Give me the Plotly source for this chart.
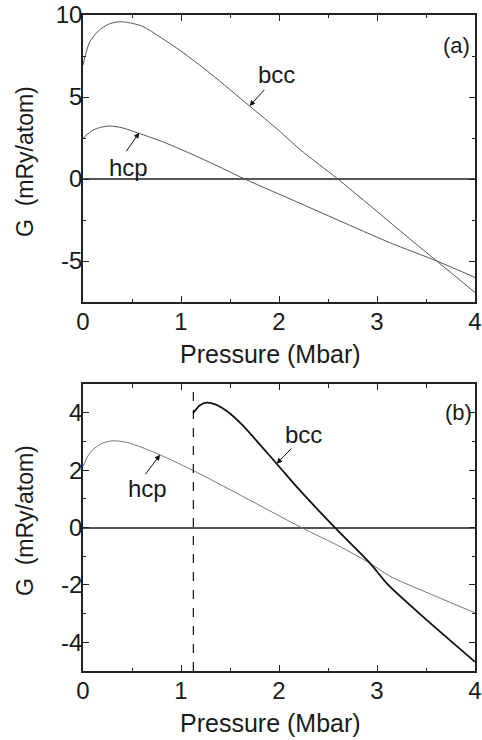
import plotly.graph_objects as go

# ---------------- data ----------------
# Panel (a)
p_bcc_a = [0.0, 0.02, 0.07, 0.156, 0.258, 0.378, 0.6, 0.8, 1.0, 1.3, 1.7, 2.0, 2.214, 2.6, 3.105, 3.3, 3.61, 4.0]
g_bcc_a = [6.95, 7.46, 8.37, 9.02, 9.43, 9.59, 9.33, 8.6, 7.8, 6.43, 4.45, 2.95, 1.8, 0.0, -2.5, -3.48, -5.0, -6.92]

p_hcp_a = [0.0, 0.05, 0.1, 0.18, 0.276, 0.4, 0.564, 0.8, 1.0, 1.3, 1.65, 2.214, 2.6, 3.13, 3.61, 4.0]
g_hcp_a = [2.48, 2.75, 2.97, 3.15, 3.23, 3.12, 2.8, 2.3, 1.8, 1.0, 0.0, -1.48, -2.5, -3.88, -5.0, -6.0]

# Panel (b)
p_hcp_b = [0.0, 0.05, 0.1, 0.2, 0.31, 0.45, 0.6, 0.786, 1.126, 1.62, 2.23, 2.6, 2.93, 3.13, 3.5, 4.0]
g_hcp_b = [2.13, 2.5, 2.72, 2.95, 3.03, 2.97, 2.8, 2.54, 1.99, 1.11, 0.0, -0.62, -1.245, -1.69, -2.25, -2.97]

p_bcc_b = [1.126, 1.19, 1.26, 1.35, 1.47, 1.62, 1.976, 2.2, 2.571, 2.93, 3.115, 3.5, 4.0]
g_bcc_b = [4.0, 4.26, 4.36, 4.3, 4.06, 3.6, 2.23, 1.35, 0.0, -1.245, -2.0, -3.2, -4.68]

transition_pressure = 1.126

x_tickvals = [0, 1, 2, 3, 4]
x_ticktext = ["0", "1", "2", "3", "4"]
ya_tickvals = [-5, 0, 5, 10]
ya_ticktext = ["-5", "0", "5", "10"]
yb_tickvals = [-4, -2, 0, 2, 4]
yb_ticktext = ["-4", "-2", "0", "2", "4"]

x_title = "Pressure (Mbar)"
y_title = "G\u00a0 (mRy/atom)"

# ---------------- figure ----------------
W, H = 482, 740
FONT = "Liberation Sans, Arial, sans-serif"
TXT = "#1a1a1a"

fig = go.Figure()

line_a = dict(color="#555555", width=1, shape="spline", smoothing=0.8)
fig.add_trace(go.Scatter(x=p_bcc_a, y=g_bcc_a, mode="lines", line=line_a, xaxis="x", yaxis="y"))
fig.add_trace(go.Scatter(x=p_hcp_a, y=g_hcp_a, mode="lines", line=line_a, xaxis="x", yaxis="y"))
fig.add_trace(go.Scatter(x=p_hcp_b, y=g_hcp_b, mode="lines",
                         line=dict(color="#777777", width=1, shape="spline", smoothing=0.8),
                         xaxis="x2", yaxis="y2"))
fig.add_trace(go.Scatter(x=p_bcc_b, y=g_bcc_b, mode="lines",
                         line=dict(color="#111111", width=1.8, shape="spline", smoothing=0.8),
                         xaxis="x2", yaxis="y2"))


def xaxis(domain, anchor):
    return dict(domain=domain, anchor=anchor, range=[0, 4], tickvals=x_tickvals, ticktext=x_ticktext,
                ticks="inside", ticklen=6, tickwidth=1, tickcolor="#222", showline=True, linecolor="#222",
                linewidth=1.5, mirror="ticks", showgrid=False, zeroline=False, automargin=False,
                ticklabelstandoff=-3,
                minor=dict(ticks="inside", ticklen=3.5, tickwidth=1, tickcolor="#222", dtick=0.5, tick0=0),
                tickfont=dict(family=FONT, size=24, color=TXT))


def yaxis(domain, anchor, rng, tv, tt, mdt):
    return dict(domain=domain, anchor=anchor, range=rng, tickvals=tv, ticktext=tt,
                ticks="inside", ticklen=6, tickwidth=1, tickcolor="#222", showline=True, linecolor="#222",
                linewidth=1.5, mirror="ticks", showgrid=False, zeroline=True, zerolinecolor="#555",
                zerolinewidth=1.6, automargin=False, ticklabelstandoff=-6,
                minor=dict(ticks="inside", ticklen=3.5, tickwidth=1, tickcolor="#222", dtick=mdt, tick0=0),
                tickfont=dict(family=FONT, size=24, color=TXT))


xd = [83 / W, 475 / W]
fig.update_layout(
    template="none",
    width=W, height=H, margin=dict(l=0, r=0, t=0, b=0, autoexpand=False),
    paper_bgcolor="white", plot_bgcolor="white", showlegend=False,
    xaxis=xaxis(xd, "y"),
    yaxis=yaxis([1 - 302 / H, 1 - 15 / H], "x", [-7.5, 10], ya_tickvals, ya_ticktext, 2.5),
    xaxis2=xaxis(xd, "y2"),
    yaxis2=yaxis([1 - 671 / H, 1 - 384.3 / H], "x2", [-5, 5], yb_tickvals, yb_ticktext, 1),
)

fig.add_shape(type="line", xref="x2", yref="y2 domain", x0=transition_pressure, x1=transition_pressure,
              y0=0, y1=1, line=dict(color="#111", width=1.2, dash="dash"))


def label(text, x, y, xr, yr, size=24):
    fig.add_annotation(text=text, x=x, y=y, xref=xr, yref=yr, showarrow=False,
                       font=dict(family=FONT, size=size, color=TXT), xanchor="center", yanchor="middle")


def arrow(x, y, ax, ay, xr, yr):
    fig.add_annotation(text="", x=x, y=y, ax=ax, ay=ay, xref=xr, yref=yr, axref=xr, ayref=yr,
                       showarrow=True, arrowhead=2, arrowsize=1.1, arrowwidth=1, arrowcolor="#111")


# panel (a)
label("bcc", 1.97, 6.4, "x", "y")
arrow(1.70, 4.45, 1.864, 5.53, "x", "y")
label("hcp", 0.46, 0.73, "x", "y")
arrow(0.574, 2.82, 0.43, 1.59, "x", "y")
label("(a)", 3.81, 8.17, "x", "y", 22)

# panel (b)
label("bcc", 2.25, 3.24, "x2", "y2")
arrow(1.976, 2.23, 2.14, 2.81, "x2", "y2")
label("hcp", 0.66, 1.35, "x2", "y2")
arrow(0.786, 2.54, 0.626, 1.81, "x2", "y2")
label("(b)", 3.83, 4.0, "x2", "y2", 22)

# axis titles
for yc_x, yc_y in [(354, 162), (723, 521)]:
    fig.add_annotation(text=x_title, x=270 / W, y=1 - yc_x / H, xref="paper", yref="paper",
                       showarrow=False, font=dict(family=FONT, size=25, color=TXT),
                       xanchor="center", yanchor="middle")
    fig.add_annotation(text=y_title, x=25 / W, y=1 - yc_y / H, xref="paper", yref="paper",
                       showarrow=False, textangle=-90, font=dict(family=FONT, size=23, color=TXT),
                       xanchor="center", yanchor="middle")

fig.write_html("out.html")
